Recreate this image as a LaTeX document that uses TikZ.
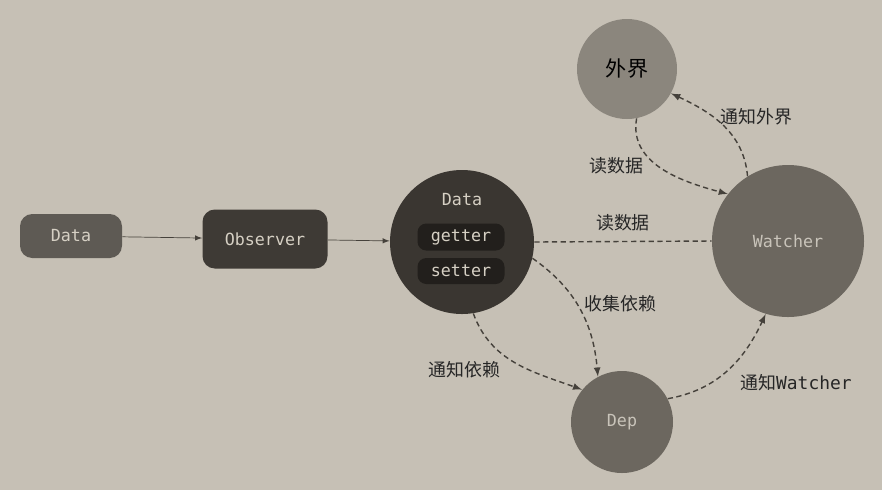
\documentclass[tikz,border=0pt]{standalone}
\usepackage{fontspec}
\setmonofont{DejaVu Sans Mono}
\newfontfamily\cjk{Noto Sans CJK SC}
\definecolor{paper}{HTML}{C6C0B5}
\definecolor{boxlight}{HTML}{5E5A54}
\definecolor{boxdark}{HTML}{3E3A35}
\definecolor{circdark}{HTML}{3A3631}
\definecolor{slot}{HTML}{221F1C}
\definecolor{circmid}{HTML}{6C675F}
\definecolor{circlight}{HTML}{8B867D}
\definecolor{ink}{HTML}{45413B}
\definecolor{lighttext}{HTML}{D6D0C4}
\tikzset{
  box/.style={rounded corners=7pt, text=lighttext, font=\ttfamily\fontsize{9.5}{11}\selectfont},
  ball/.style={circle, inner sep=0pt},
  slotbox/.style={fill=slot, rounded corners=5pt, minimum width=1.74cm, minimum height=0.52cm, text=lighttext, font=\ttfamily\fontsize{9.5}{11}\selectfont},
  link/.style={->, ink, thick, dash pattern=on 3pt off 2pt},
  lbl/.style={font=\cjk\fontsize{10.2}{12}\selectfont, text=black!85}
}
\begin{document}
\begin{tikzpicture}[>=latex]
    % page
    \fill[paper] (0,0) rectangle (17.64,-9.8);
    \useasboundingbox (0,0) rectangle (17.64,-9.8);
    % input and observer
    \node[box, fill=boxlight, minimum width=2.04cm, minimum height=0.88cm] (In) at (1.42,-4.72) {Data};
    \node[box, fill=boxdark, minimum width=2.5cm, minimum height=1.18cm] (Obs) at (5.30,-4.78) {Observer};
    % data with getter and setter
    \node[ball, fill=circdark, minimum size=2.88cm] (D) at (9.24,-4.84) {};
    \node[text=lighttext, font=\ttfamily\fontsize{9.5}{11}\selectfont] at (9.24,-4.0) {Data};
    \node[slotbox] (G) at (9.22,-4.74) {getter};
    \node[slotbox] (S) at (9.22,-5.42) {setter};
    % watcher, outside, dep
    \node[ball, fill=circmid, minimum size=3.04cm, text=lighttext!85!gray, font=\ttfamily\fontsize{9.5}{11}\selectfont] (W) at (15.76,-4.82) {Watcher};
    \node[ball, fill=circlight, minimum size=2.0cm, font=\cjk\large] (Out) at (12.54,-1.38) {外界};
    \node[ball, fill=circmid, minimum size=2.04cm, text=lighttext!85!gray, font=\ttfamily\fontsize{9.5}{11}\selectfont] (Dep) at (12.44,-8.44) {Dep};

    % arrows
    \draw[->, ink] (In) -- (Obs);
    \draw[->, ink] (Obs) -- (D);
    \draw[ink, thick, dash pattern=on 3pt off 2pt] (D.east) -- node[lbl, above=2pt] {读数据} (W.west);
    \draw[link] (Out.-79) to[out=-100, in=165] node[lbl, left=4pt, pos=0.45] {读数据} (W.142);
    \draw[link] (W.122) to[out=95, in=-25] node[lbl, right=1pt, pos=0.62] {通知外界} (Out.-29);
    \draw[link] (D.-13) to[out=-35, in=95] node[lbl, right=1pt, pos=0.45] {收集依赖} (Dep.118);
    \draw[link] (D.-81) to[out=-70, in=160] node[lbl, left=12pt, pos=0.6] {通知依赖} (Dep.141);
    \draw[link] (Dep.27) to[out=10, in=-115] node[lbl, below right=1pt, pos=0.55] {通知\texttt{Watcher}} (W.-107);
\end{tikzpicture}
\end{document}
